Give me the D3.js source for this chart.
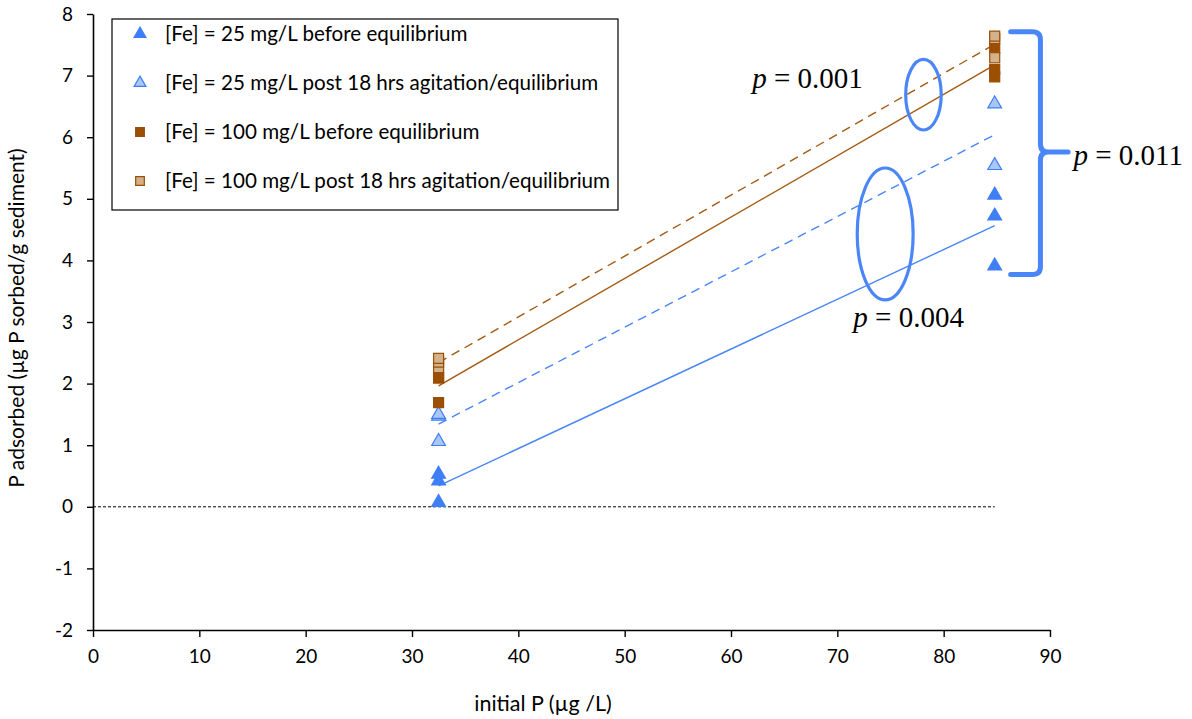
<!DOCTYPE html>
<html>
<head>
<meta charset="utf-8">
<script src="https://cdn.jsdelivr.net/npm/d3@7"></script>
<style>
  html, body { margin: 0; padding: 0; background: #fff; }
  svg { display: block; }
</style>
</head>
<body>
<svg id="chart" width="1192" height="719"></svg>
<script>
// ---------------- DATA ----------------
const xTicks = [0, 10, 20, 30, 40, 50, 60, 70, 80, 90];
const yTicks = [-2, -1, 0, 1, 2, 3, 4, 5, 6, 7, 8];

const seriesNames = [
  "[Fe] = 25 mg/L before equilibrium",
  "[Fe] = 25 mg/L post 18 hrs agitation/equilibrium",
  "[Fe] = 100 mg/L before equilibrium",
  "[Fe] = 100 mg/L post 18 hrs agitation/equilibrium"
];

// initial P (x) for each measurement
const initialP = [32.5, 32.5, 32.5, 84.8, 84.8, 84.8];

// P adsorbed values
const fe25Before  = [0.07, 0.42, 0.53, 3.91, 4.72, 5.06];
const fe25Post    = [1.06, 1.47, 1.50, 5.54, 6.54, null];
const fe100Before = [1.69, 2.09, 2.11, 6.98, 7.10, 7.44];
const fe100Post   = [2.26, 2.35, 2.41, 7.29, 7.60, 7.64];

// zero reference line (x from, x to)
const zeroLineX = [0, 84.8];

// annotations (data coordinates)
const pLabels = [
  { text: "0.001", x: 62.0, y: 6.80 },
  { text: "0.004", x: 71.5, y: 2.92 },
  { text: "0.011", x: 92.2, y: 5.55 }
];
const ellipses = [
  { cx: 78.1, cy: 6.69, rx: 1.67, ry: 0.573 },
  { cx: 74.5, cy: 4.43, rx: 2.63, ry: 1.07 }
];
const bracket = { xArm: 86.3, xSpine: 89.1, xTip: 91.7, yTop: 7.71, yMid: 5.76, yBot: 3.77 };

// ---------------- STYLE ----------------
const BLUE = "#3f7ff6";
const BLUE_LINE = "#4a86f7";
const LIGHT_BLUE = "#aac6f3";
const BROWN = "#9a4f05";
const BROWN_LINE = "#a35a12";
const LIGHT_BROWN = "#d3b18b";
const ANNOT = "#4a86f7";
const SANS = "Lato, 'Open Sans', sans-serif";
const SERIF = "'Liberation Serif', 'Times New Roman', serif";

const svg = d3.select("#chart");
const x = d3.scaleLinear().domain([0, 90]).range([93, 1050]);
const y = d3.scaleLinear().domain([-2, 8]).range([630, 14]);

const seriesStyle = [
  { vals: fe25Before,  sym: d3.symbolTriangle, size: 82, fill: BLUE, stroke: BLUE, line: BLUE_LINE, dash: null },
  { vals: fe25Post,    sym: d3.symbolTriangle, size: 82, fill: LIGHT_BLUE, stroke: BLUE, line: BLUE_LINE, dash: "9,6" },
  { vals: fe100Before, sym: d3.symbolSquare,   size: 100, fill: BROWN, stroke: BROWN, line: BROWN_LINE, dash: null },
  { vals: fe100Post,   sym: d3.symbolSquare,   size: 100, fill: LIGHT_BROWN, stroke: BROWN, line: BROWN_LINE, dash: "9,6" }
];

// ---------------- AXES ----------------
const fmt = d => String(d);
const yAxis = d3.axisLeft(y).tickValues(yTicks).tickFormat(fmt).tickSize(6).tickSizeOuter(0).tickPadding(14);
const xAxis = d3.axisBottom(x).tickValues(xTicks).tickFormat(fmt).tickSize(7).tickSizeOuter(0).tickPadding(13);

const gy = svg.append("g").attr("transform", "translate(93,0)").call(yAxis);
const gx = svg.append("g").attr("transform", "translate(0,630)").call(xAxis);
[gx, gy].forEach(g => {
  g.select(".domain").attr("stroke", "#000").attr("stroke-width", 1.6);
  g.selectAll(".tick line").attr("stroke", "#000").attr("stroke-width", 1.4);
  g.selectAll(".tick text").attr("fill", "#000").style("font-family", SANS).style("font-size", "19px");
});

svg.append("text")
  .attr("x", 543).attr("y", 711)
  .attr("text-anchor", "middle")
  .style("font-family", SANS).style("font-size", "21.5px").attr("fill", "#000")
  .text("initial P (µg /L)");

svg.append("text")
  .attr("transform", "translate(24,318) rotate(-90)")
  .attr("text-anchor", "middle")
  .style("font-family", SANS).style("font-size", "21px").attr("fill", "#000")
  .text("P adsorbed (µg P sorbed/g sediment)");

// ---------------- ZERO LINE ----------------
svg.append("line")
  .attr("x1", x(zeroLineX[0])).attr("x2", x(zeroLineX[1]))
  .attr("y1", y(0)).attr("y2", y(0))
  .attr("stroke", "#000").attr("stroke-width", 1).attr("stroke-dasharray", "3,2");

// ---------------- TREND LINES (least squares fit) ----------------
function fit(vals) {
  const pts = vals.map((v, i) => [initialP[i], v]).filter(p => p[1] != null);
  const mx = d3.mean(pts, p => p[0]), my = d3.mean(pts, p => p[1]);
  const sxy = d3.sum(pts, p => (p[0] - mx) * (p[1] - my));
  const sxx = d3.sum(pts, p => (p[0] - mx) ** 2);
  const b = sxy / sxx, a = my - b * mx;
  const x0 = d3.min(pts, p => p[0]), x1 = d3.max(pts, p => p[0]);
  return [[x0, a + b * x0], [x1, a + b * x1]];
}
const lineGen = d3.line().x(d => x(d[0])).y(d => y(d[1]));
seriesStyle.forEach(s => {
  svg.append("path")
    .attr("d", lineGen(fit(s.vals)))
    .attr("fill", "none")
    .attr("stroke", s.line).attr("stroke-width", 1.4)
    .attr("stroke-dasharray", s.dash);
});

// ---------------- MARKERS ----------------
seriesStyle.forEach(s => {
  const pts = s.vals.map((v, i) => [initialP[i], v]).filter(p => p[1] != null);
  svg.append("g").selectAll("path").data(pts).join("path")
    .attr("transform", d => `translate(${x(d[0])},${y(d[1])})`)
    .attr("d", d3.symbol().type(s.sym).size(s.size))
    .attr("fill", s.fill).attr("stroke", s.stroke).attr("stroke-width", 1.2);
});

// ---------------- LEGEND ----------------
const legend = svg.append("g");
legend.append("rect")
  .attr("x", 112).attr("y", 19).attr("width", 506).attr("height", 191)
  .attr("fill", "#fff").attr("stroke", "#000").attr("stroke-width", 1.2);
seriesNames.forEach((name, i) => {
  const cy = 34 + i * 49;
  const s = seriesStyle[i];
  legend.append("path")
    .attr("transform", `translate(140,${cy})`)
    .attr("d", d3.symbol().type(s.sym).size(s.size * 0.75))
    .attr("fill", s.fill).attr("stroke", s.stroke).attr("stroke-width", 1.2);
  legend.append("text")
    .attr("x", 165).attr("y", cy).attr("dy", "0.36em")
    .style("font-family", SANS).style("font-size", "20.6px").attr("fill", "#000")
    .text(name);
});

// ---------------- ANNOTATIONS ----------------
ellipses.forEach(e => {
  svg.append("ellipse")
    .attr("cx", x(e.cx)).attr("cy", y(e.cy))
    .attr("rx", x(e.cx + e.rx) - x(e.cx)).attr("ry", y(e.cy) - y(e.cy + e.ry))
    .attr("fill", "none").attr("stroke", ANNOT).attr("stroke-width", 3.2);
});

{
  const xa = x(bracket.xArm), xs = x(bracket.xSpine), xt = x(bracket.xTip);
  const yt = y(bracket.yTop), ym = y(bracket.yMid), yb = y(bracket.yBot);
  const r = 8;
  const p = d3.path();
  p.moveTo(xa, yt);
  p.lineTo(xs - r, yt);
  p.quadraticCurveTo(xs, yt, xs, yt + r);
  p.lineTo(xs, ym - r);
  p.quadraticCurveTo(xs, ym, xs + r, ym);
  p.lineTo(xt, ym);
  p.moveTo(xs + r, ym);
  p.quadraticCurveTo(xs, ym, xs, ym + r);
  p.lineTo(xs, yb - r);
  p.quadraticCurveTo(xs, yb, xs - r, yb);
  p.lineTo(xa, yb);
  svg.append("path").attr("d", p.toString())
    .attr("fill", "none").attr("stroke", ANNOT).attr("stroke-width", 5)
    .attr("stroke-linecap", "round").attr("stroke-linejoin", "round");
}

pLabels.forEach(l => {
  const t = svg.append("text")
    .attr("x", x(l.x)).attr("y", y(l.y))
    .style("font-family", SERIF).style("font-size", "29px").attr("fill", "#000");
  t.append("tspan").style("font-style", "italic").text("p");
  t.append("tspan").text(" = " + l.text);
});
</script>
</body>
</html>
